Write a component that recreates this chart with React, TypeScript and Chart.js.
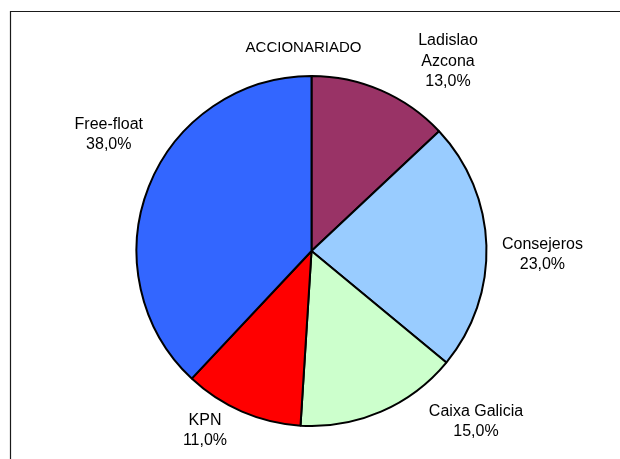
import React, { useEffect, useRef } from "react";
import { Chart, registerables } from "chart.js";

Chart.register(...registerables);

const title = "ACCIONARIADO";
const categories = ["Ladislao\nAzcona", "Consejeros", "Caixa Galicia", "KPN", "Free-float"];
const shares = [13.0, 23.0, 15.0, 11.0, 38.0];
const sliceColors = ["#993366", "#99CCFF", "#CCFFCC", "#FF0000", "#3366FF"];

// label block offsets (px) from the outer mid-point of each slice
const labelOffsets: [number, number][] = [
  [67, -29],
  [56, 9],
  [95, 10],
  [-37, 19],
  [-40, -52],
];

const FONT = '16px "Liberation Sans", Arial, sans-serif';
const TITLE_FONT = '15px "Liberation Sans", Arial, sans-serif';
const LINE_H = 20.5;

const fmt = (v: number) => v.toFixed(1).replace(".", ",") + "%";

const decorPlugin = {
  id: "decor",
  beforeDraw(chart: any) {
    const ctx = chart.ctx;
    ctx.save();
    ctx.fillStyle = "#ffffff";
    ctx.fillRect(0, 0, chart.width, chart.height);
    ctx.strokeStyle = "#1a1a1a";
    ctx.lineWidth = 1.2;
    ctx.beginPath();
    ctx.moveTo(10.5, chart.height);
    ctx.lineTo(10.5, 11.5);
    ctx.lineTo(chart.width, 11.5);
    ctx.stroke();
    ctx.restore();
  },
  afterDraw(chart: any) {
    const ctx = chart.ctx;
    const meta = chart.getDatasetMeta(0);
    ctx.save();
    ctx.fillStyle = "#000000";
    ctx.textAlign = "center";
    ctx.textBaseline = "middle";
    // title
    ctx.font = TITLE_FONT;
    const cx0 = meta.data[0].x;
    ctx.fillText(title, cx0 - 8, 48);
    ctx.font = FONT;
    meta.data.forEach((arc: any, i: number) => {
      const mid = (arc.startAngle + arc.endAngle) / 2;
      const ax = arc.x + Math.cos(mid) * arc.outerRadius;
      const ay = arc.y + Math.sin(mid) * arc.outerRadius;
      const lines = categories[i].split("\n").concat([fmt(shares[i])]);
      const bx = ax + labelOffsets[i][0];
      const by = ay + labelOffsets[i][1];
      const top = by - ((lines.length - 1) * LINE_H) / 2;
      lines.forEach((ln, j) => ctx.fillText(ln, bx, top + j * LINE_H));
    });
    ctx.restore();
  },
};

export default function App() {
  const ref = useRef<HTMLCanvasElement>(null);
  useEffect(() => {
    const chart = new Chart(ref.current!, {
      type: "pie",
      data: {
        labels: categories,
        datasets: [
          {
            data: shares,
            backgroundColor: sliceColors,
            borderColor: "#000000",
            borderWidth: 2,
          },
        ],
      },
      options: {
        responsive: false,
        animation: false,
        devicePixelRatio: 1,
        radius: 175,
        layout: { padding: { top: 43, left: 3, right: 0, bottom: 0 } },
        plugins: {
          legend: { display: false },
          tooltip: { enabled: false },
          title: { display: false },
        },
      } as any,
      plugins: [decorPlugin],
    });
    return () => chart.destroy();
  }, []);
  return (
    <div style={{ position: "absolute", left: 0, top: 0, width: 620, height: 459 }}>
      <canvas ref={ref} width={620} height={459} />
    </div>
  );
}
